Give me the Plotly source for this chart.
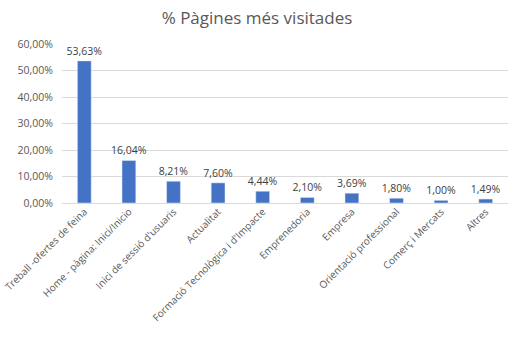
import plotly.graph_objects as go

categories = [
    "Treball -ofertes de feina",
    "Home - pàgina: Inici/Inicio",
    "Inici de sessió d'usuaris",
    "Actualitat",
    "Formació Tecnològica i d'Impacte",
    "Emprenedoria",
    "Empresa",
    "Orientació professional",
    "Comerç i Mercats",
    "Altres",
]
percent_values = [53.63, 16.04, 8.21, 7.60, 4.44, 2.10, 3.69, 1.80, 1.00, 1.49]
tick_values = [0, 10, 20, 30, 40, 50, 60]
tick_labels = ["0,00%", "10,00%", "20,00%", "30,00%", "40,00%", "50,00%", "60,00%"]

fig = go.Figure(
    go.Bar(
        x=categories,
        y=percent_values,
        marker_color="#4472C4",
        texttemplate="%{y:.2f}%",
        textposition="outside",
        constraintext="none",
        textfont=dict(size=10.5, color="#404040"),
        cliponaxis=False,
    )
)

fig.update_layout(
    width=514,
    height=339,
    margin=dict(l=62, r=6, t=44, b=136),
    paper_bgcolor="white",
    plot_bgcolor="white",
    separators=",.",
    font=dict(family="Open Sans, Liberation Sans, sans-serif", color="#595959", size=11),
    title=dict(
        text="% Pàgines més visitades",
        x=0.5,
        xanchor="center",
        y=0.948,
        yanchor="middle",
        font=dict(size=17, color="#595959"),
    ),
    bargap=0.69,
    showlegend=False,
)

fig.update_xaxes(
    tickangle=-45,
    tickfont=dict(size=10, color="#595959"),
    showline=False,
    ticks="",
    automargin=False,
)

fig.update_yaxes(
    range=[0, 60],
    tickvals=tick_values,
    ticktext=tick_labels,
    tickfont=dict(size=10.5, color="#595959"),
    showgrid=True,
    gridcolor="#D9D9D9",
    gridwidth=1,
    zeroline=True,
    zerolinecolor="#D9D9D9",
    zerolinewidth=1,
    ticks="",
    ticklabelstandoff=8,
    automargin=False,
)

fig.write_html("out.html")
